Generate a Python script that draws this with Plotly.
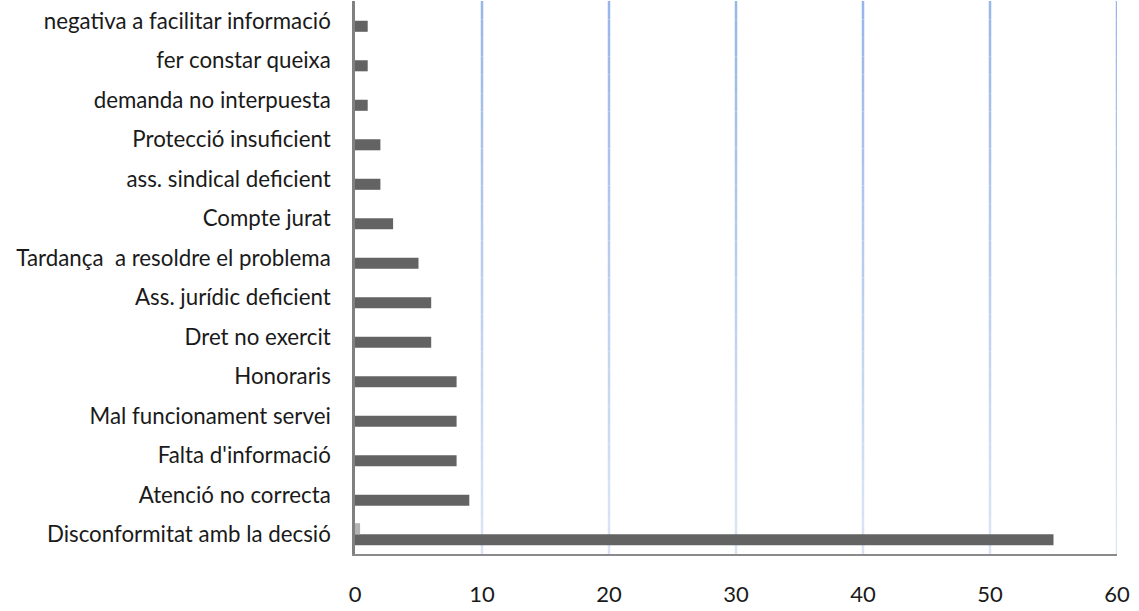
import plotly.graph_objects as go

categories = [
    "Disconformitat amb la decsió",
    "Atenció no correcta",
    "Falta d'informació",
    "Mal funcionament servei",
    "Honoraris",
    "Dret no exercit",
    "Ass. jurídic deficient",
    "Tardança  a resoldre el problema",
    "Compte jurat",
    "ass. sindical deficient",
    "Protecció insuficient",
    "demanda no interpuesta",
    "fer constar queixa",
    "negativa a facilitar informació",
]
series1 = [55, 9, 8, 8, 8, 6, 6, 5, 3, 2, 2, 1, 1, 1]
series2 = [0.4, 0, 0, 0, 0, 0, 0, 0, 0, 0, 0, 0, 0, 0]
x_ticks = [0, 10, 20, 30, 40, 50, 60]

fig = go.Figure()
fig.add_trace(go.Bar(y=categories, x=series1, orientation="h",
                     marker=dict(color="#636363", line=dict(width=0)), name="s1"))
fig.add_trace(go.Bar(y=categories, x=series2, orientation="h",
                     marker=dict(color="#b3b3b3", line=dict(width=0)), name="s2"))

# gradient vertical gridlines
def lerp(c1, c2, t):
    return "rgb(%d,%d,%d)" % tuple(round(a + (b - a) * t) for a, b in zip(c1, c2))

top = (150, 182, 232)
bot = (220, 229, 245)
nseg = 30
shapes = []
for xv in x_ticks[1:]:
    for i in range(nseg):
        y0 = 1 - i / nseg
        y1 = 1 - (i + 1) / nseg
        shapes.append(dict(type="line", xref="x", yref="paper", x0=xv, x1=xv,
                           y0=y0, y1=y1, layer="below",
                           line=dict(color=lerp(top, bot, (i + 0.5) / nseg), width=2.5)))

fig.update_layout(
    width=1139, height=611,
    paper_bgcolor="white", plot_bgcolor="white",
    margin=dict(l=355, r=22, t=1, b=57, autoexpand=False),
    barmode="group", bargap=0.44, bargroupgap=0,
    showlegend=False,
    shapes=shapes,
    font=dict(family="Lato, Carlito, Calibri, sans-serif", color="#1a1a1a"),
)
fig.update_xaxes(range=[0, 60], tickvals=x_ticks, showgrid=False, zeroline=False,
                 showline=True, linecolor="#8a8a8a", linewidth=2, automargin=False,
                 ticks="", tickfont=dict(size=22), ticklabelstandoff=20, fixedrange=True)
fig.update_yaxes(showgrid=False, zeroline=False, showline=True, linecolor="#808080",
                 linewidth=2.5, ticks="", tickfont=dict(size=22.3), ticklabelstandoff=17,
                 automargin=False, fixedrange=True)

fig.write_html("out.html", post_script="document.body.style.margin='0';",
               config={"displayModeBar": False})
